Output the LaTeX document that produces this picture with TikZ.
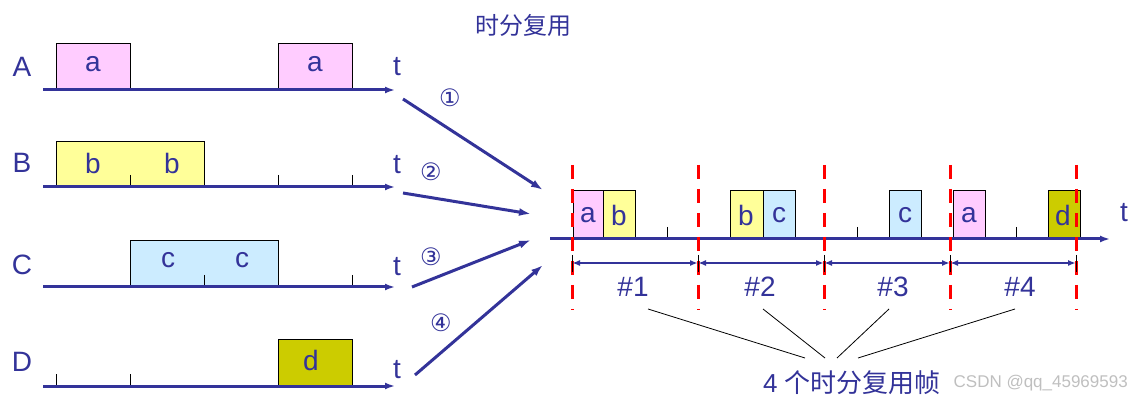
\documentclass[tikz,border=0pt]{standalone}
\usepackage{fontspec}
\setmainfont{Liberation Sans}
\newfontfamily\cjk{Noto Sans CJK SC}
\newfontfamily\djsans{DejaVu Sans}
\usetikzlibrary{arrows.meta}
\definecolor{lblue}{RGB}{51,51,153}
\definecolor{cpink}{RGB}{255,204,255}
\definecolor{cyel}{RGB}{255,255,153}
\definecolor{ccyan}{RGB}{204,236,255}
\definecolor{colive}{RGB}{204,204,0}
\begin{document}
\begin{tikzpicture}[x=1pt,y=-1pt,
  axis/.style={lblue,line width=3pt,-{Latex[length=10pt,width=7pt]}},
  feed/.style={lblue,line width=3pt,-{Latex[length=12pt,width=8pt]}},
  lab/.style={text=lblue,font=\fontsize{28}{30}\selectfont,inner sep=0pt},
  num/.style={text=lblue,font=\djsans\fontsize{24}{26}\selectfont,inner sep=0pt},
  slot/.style={draw=black,line width=0.6pt},
  tk/.style={black,line width=0.6pt},
  reddash/.style={draw=red,line width=3pt,dash pattern=on 14pt off 10pt},
  dbl/.style={lblue,line width=2.5pt,{Latex[length=8pt,width=6pt]}-{Latex[length=8pt,width=6pt]}}]
\useasboundingbox (0,0) rectangle (1140,411);
\node[text=lblue,font=\cjk\fontsize{24}{26}\selectfont] (title) at (523,25) {时分复用};
% row A
\filldraw[slot,fill=cpink] (56,43) rectangle (130,90); \node[lab] (a1) at (93,64) {a};
\filldraw[slot,fill=cpink] (278,43) rectangle (352,90); \node[lab] (a2) at (315,64) {a};
\coordinate (As) at (43,90); \coordinate (Ae) at (395,90);
\draw[axis] (As) -- (Ae);
\node[lab] (LA) at (22,67) {A}; \node[lab] (tA) at (397,67) {t};
% row B
\filldraw[slot,fill=cyel] (56,141) rectangle (204,187);
\node[lab] (b1) at (93,163) {b}; \node[lab] (b2) at (172,163) {b};
\foreach \x in {130,278,352} \draw[tk] (\x,175) -- (\x,187);
\coordinate (Bs) at (43,187); \coordinate (Be) at (395,187);
\draw[axis] (Bs) -- (Be);
\node[lab] (LB) at (22,163) {B}; \node[lab] (tB) at (397,165) {t};
% row C
\filldraw[slot,fill=ccyan] (130,240) rectangle (278,287);
\node[lab] (c1) at (168,260) {c}; \node[lab] (c2) at (242,260) {c};
\foreach \x in {204,352} \draw[tk] (\x,275) -- (\x,287);
\coordinate (Cs) at (43,287); \coordinate (Ce) at (395,287);
\draw[axis] (Cs) -- (Ce);
\node[lab] (LC) at (22,265) {C}; \node[lab] (tC) at (397,267) {t};
% row D
\filldraw[slot,fill=colive] (278,339) rectangle (352,386); \node[lab] (d1) at (311,360) {d};
\foreach \x in {56,130} \draw[tk] (\x,374) -- (\x,386);
\coordinate (Ds) at (43,386); \coordinate (De) at (395,386);
\draw[axis] (Ds) -- (De);
\node[lab] (LD) at (22,362) {D}; \node[lab] (tD) at (397,370) {t};
% feed arrows
\coordinate (f1s) at (403,99); \coordinate (f1e) at (543,190);
\coordinate (f2s) at (403,193); \coordinate (f2e) at (531,214);
\coordinate (f3s) at (412,287); \coordinate (f3e) at (531,240);
\coordinate (f4s) at (415,375); \coordinate (f4e) at (543,265);
\draw[feed] (f1s) -- (f1e); \draw[feed] (f2s) -- (f2e);
\draw[feed] (f3s) -- (f3e); \draw[feed] (f4s) -- (f4e);
\node[num] (n1) at (450,98) {①}; \node[num] (n2) at (431,172) {②};
\node[num] (n3) at (431,257) {③}; \node[num] (n4) at (441,323) {④};
% multiplexed line
\filldraw[slot,fill=cpink] (573,190) rectangle (603,238); \node[lab] (ma1) at (588,215) {a};
\filldraw[slot,fill=cyel] (603,190) rectangle (635,238); \node[lab] (mb1) at (619,215) {b};
\filldraw[slot,fill=cyel] (730,190) rectangle (763,238); \node[lab] (mb2) at (746,215) {b};
\filldraw[slot,fill=ccyan] (763,190) rectangle (795,238); \node[lab] (mc2) at (779,215) {c};
\filldraw[slot,fill=ccyan] (889,190) rectangle (921,238); \node[lab] (mc3) at (905,215) {c};
\filldraw[slot,fill=cpink] (953,190) rectangle (985,238); \node[lab] (ma4) at (969,215) {a};
\filldraw[slot,fill=colive] (1048,190) rectangle (1080,238); \node[lab] (md4) at (1063,215) {d};
\foreach \x in {667,857,1016} \draw[tk] (\x,227) -- (\x,239);
\coordinate (Ms) at (550,239); \coordinate (Me) at (1110,239);
\draw[axis] (Ms) -- (Me);
\node[lab] (tM) at (1124,213) {t};
\foreach \x in {572,698,824,950,1076} {
  \draw[reddash] (\x,165) -- (\x,310);
  \draw[tk] (\x,255) -- (\x,272);
}
\coordinate (k0) at (572,263); \coordinate (k1) at (698,263); \coordinate (k2) at (824,263);
\coordinate (k3) at (950,263); \coordinate (k4) at (1076,263);
\draw[dbl] (k0) -- (k1); \draw[dbl] (k1) -- (k2); \draw[dbl] (k2) -- (k3); \draw[dbl] (k3) -- (k4);
\node[lab] (h1) at (633,287) {\#1}; \node[lab] (h2) at (760,287) {\#2};
\node[lab] (h3) at (893,287) {\#3}; \node[lab] (h4) at (1020,287) {\#4};
\node[text=lblue,font=\fontsize{26}{28}\selectfont,inner sep=0pt] (frames) at (852,383) {4 {\cjk 个时分复用帧}};
\coordinate (p1) at (648,309); \coordinate (p2) at (763,309); \coordinate (p3) at (889,309); \coordinate (p4) at (1015,309);
\coordinate (q1) at (805,358); \coordinate (q2) at (825,358); \coordinate (q3) at (837,358); \coordinate (q4) at (858,358);
\draw[black,line width=0.8pt] (p1) -- (q1); \draw[black,line width=0.8pt] (p2) -- (q2);
\draw[black,line width=0.8pt] (p3) -- (q3); \draw[black,line width=0.8pt] (p4) -- (q4);
\node[text=black!25,font=\fontsize{17}{18}\selectfont,inner sep=0pt,anchor=east] (wm) at (1128,383) {CSDN @qq\_45969593};
\end{tikzpicture}
\end{document}
